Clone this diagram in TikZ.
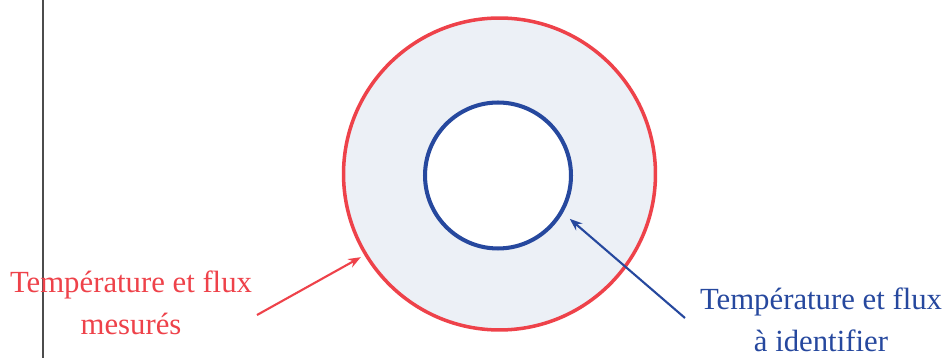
\documentclass[tikz,border=0pt]{standalone}
\usepackage{fontspec}
\setmainfont{Liberation Serif}
\usetikzlibrary{arrows.meta}
\definecolor{mesred}{RGB}{238,66,74}
\definecolor{idblue}{RGB}{38,72,158}
\definecolor{ringfill}{RGB}{236,240,246}

\begin{document}
\begin{tikzpicture}[x=0.02cm,y=0.02cm,
  lbl/.style={align=center,font=\fontsize{17.5}{24}\selectfont,anchor=base},
  ring/.style={circle,inner sep=0pt,line width=2pt},
  pointer/.style={-{Stealth[length=0.25cm,width=0.19cm]},line width=1.2pt}]
\useasboundingbox (0,0) rectangle (947,358);
\draw[line width=1.6pt,black!70] (43,0)--(43,358);
% the ring and its two borders
\node[ring,draw=mesred,fill=ringfill,minimum size=6.24cm] (outer) at (499.5,184) {};
\node[ring,draw=idblue,fill=white,minimum size=2.92cm,line width=2.3pt] (inner) at (498,182.5) {};
% labels
\node[lbl,text=mesred] (mes) at (131,23) {Température et flux\\mesurés};
\node[lbl,text=idblue] (ident) at (821,6) {Température et flux\\à identifier};
\coordinate (mesfrom) at (257,43);
\coordinate (identfrom) at (685,40);
\draw[pointer,mesred,shorten >=0.08cm] (mesfrom) -- (outer.211.6);
\draw[pointer,idblue,shorten >=0.18cm] (identfrom) -- (inner.-30.5);
\end{tikzpicture}
\end{document}
